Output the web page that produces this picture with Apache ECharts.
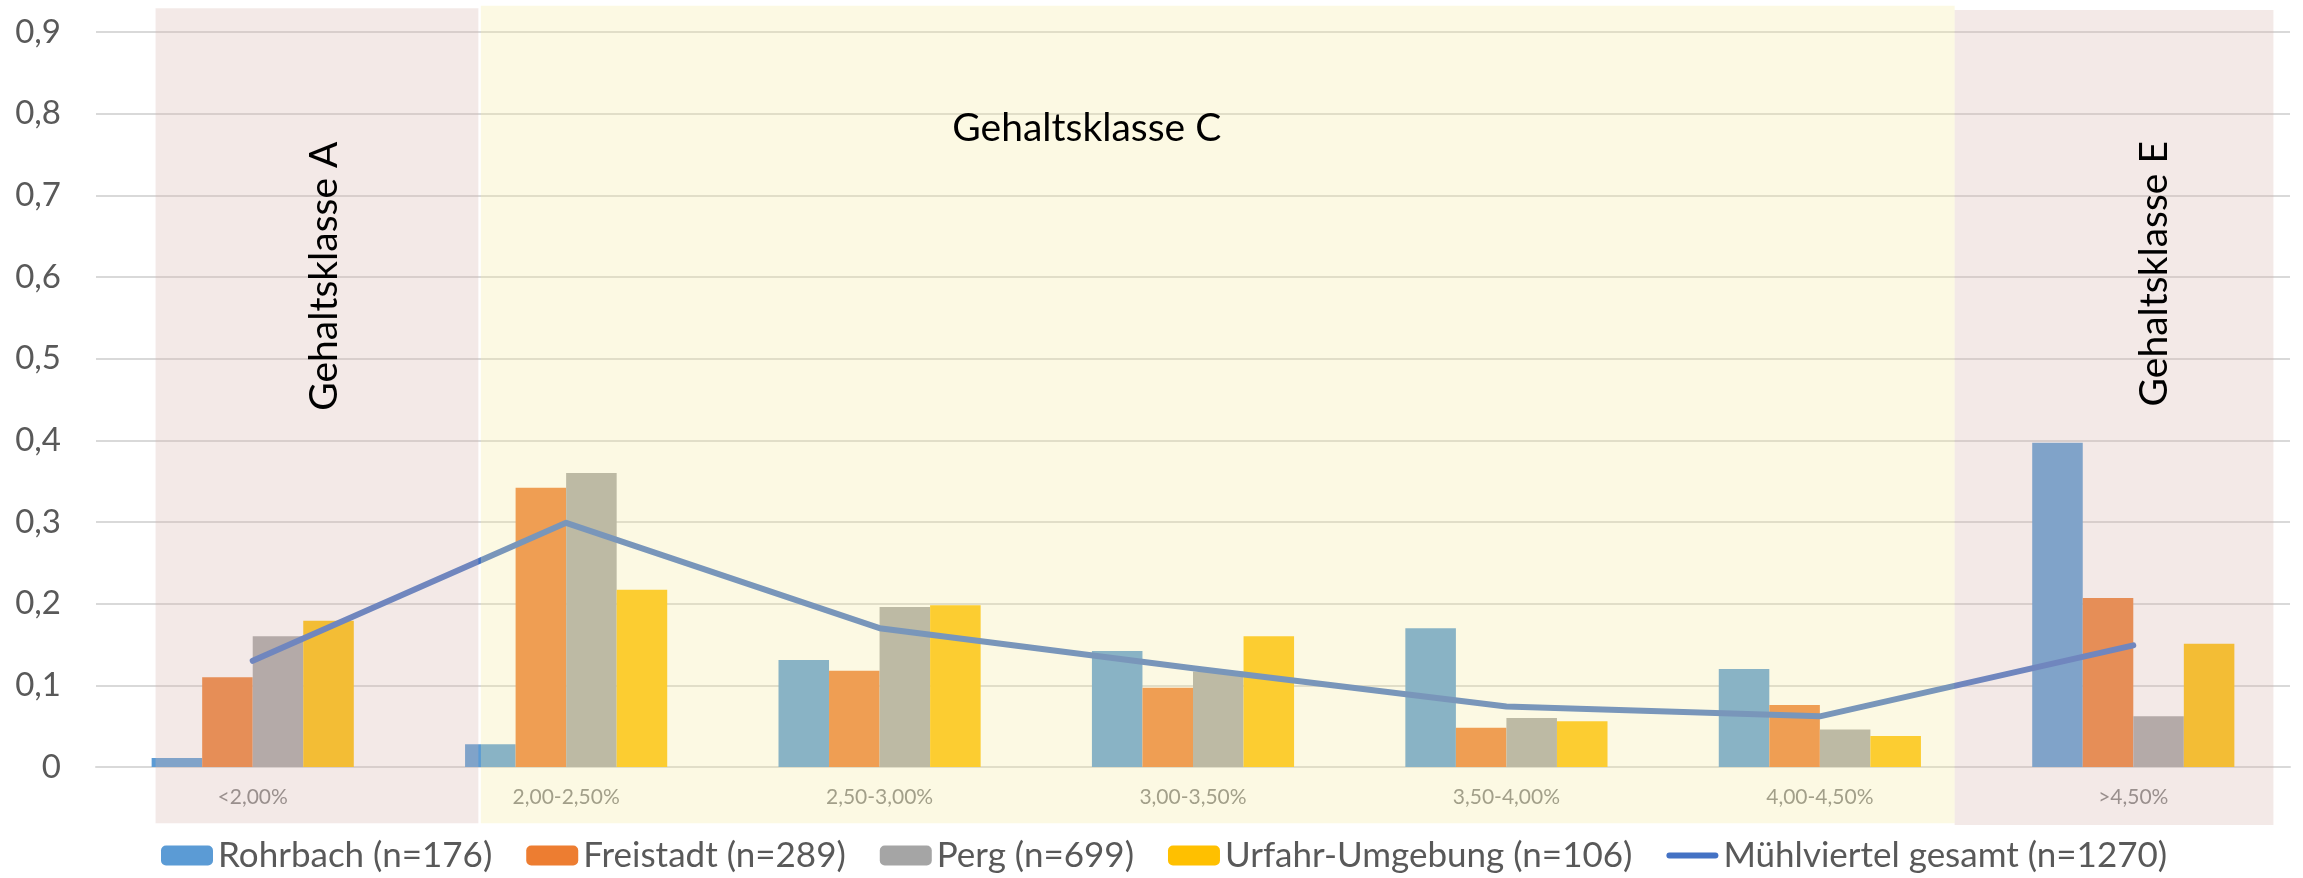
<!DOCTYPE html>
<html>
<head>
<meta charset="utf-8">
<script src="https://cdn.jsdelivr.net/npm/echarts@6/dist/echarts.min.js"></script>
<style>
  html, body { margin: 0; padding: 0; background: #fff; }
  #chart { width: 2303px; height: 878px; }
</style>
</head>
<body>
<div id="chart"></div>
<script>
const categories = ["<2,00%", "2,00-2,50%", "2,50-3,00%", "3,00-3,50%", "3,50-4,00%", "4,00-4,50%", ">4,50%"];
const rohrbach = [0.011, 0.028, 0.131, 0.142, 0.170, 0.120, 0.397];
const freistadt = [0.110, 0.342, 0.118, 0.097, 0.048, 0.076, 0.207];
const perg = [0.160, 0.360, 0.196, 0.117, 0.060, 0.046, 0.062];
const urfahr = [0.179, 0.217, 0.198, 0.160, 0.056, 0.038, 0.151];
const gesamt = [0.130, 0.299, 0.170, 0.121, 0.074, 0.062, 0.149];
const seriesNames = ["Rohrbach (n=176)", "Freistadt (n=289)", "Perg (n=699)", "Urfahr-Umgebung (n=106)", "Mühlviertel gesamt (n=1270)"];
const bandLabels = ["Gehaltsklasse A", "Gehaltsklasse C", "Gehaltsklasse E"];

const FONT = "Lato, 'Open Sans', sans-serif";

// shaded salary-class bands, in category units (0..7) on a hidden value axis
const bands = [
  { from: 0.19, to: 1.22, top: 0.929, bottom: -0.069, color: "rgba(215,182,175,0.3)" },
  { from: 1.228, to: 5.93, top: 0.932, bottom: -0.069, color: "rgba(245,235,163,0.3)" },
  { from: 5.93, to: 6.947, top: 0.927, bottom: -0.071, color: "rgba(215,182,175,0.3)" },
];
const bandText = [
  { x: 0.73, y: 0.601, rotate: true },
  { x: 3.161, y: 0.782, rotate: false },
  { x: 6.568, y: 0.604, rotate: true },
];

const chart = echarts.init(document.getElementById("chart"));

const barSeries = (name, data, color) => ({
  name,
  type: "bar",
  data,
  barGap: "0%",
  barCategoryGap: "35.5%",
  itemStyle: { color },
});

chart.setOption({
  animation: false,
  grid: { left: 96, right: 13, top: 32, bottom: 111 },
  legend: {
    left: 156,
    top: 833,
    itemWidth: 52,
    itemHeight: 20,
    itemGap: 34,
    textStyle: { fontFamily: FONT, fontSize: 35, color: "#595959" },
    data: [
      seriesNames[0],
      seriesNames[1],
      seriesNames[2],
      seriesNames[3],
      { name: seriesNames[4], icon: "path://M3,0 L49,0 A3,3 0 0 1 49,6 L3,6 A3,3 0 0 1 3,0 Z" },
    ],
  },
  xAxis: [
    {
      type: "category",
      data: categories,
      axisTick: { show: false },
      axisLine: { lineStyle: { color: "#d9d9d9", width: 2 } },
      axisLabel: { fontFamily: FONT, fontSize: 21, color: "#7f7f7f", margin: 20 },
    },
    { type: "value", min: 0, max: 7, show: false },
  ],
  yAxis: {
    type: "value",
    min: 0,
    max: 0.9,
    interval: 0.1,
    axisLine: { show: false },
    axisTick: { show: false },
    splitLine: { lineStyle: { color: "#d9d9d9", width: 2 } },
    axisLabel: {
      fontFamily: FONT,
      fontSize: 33,
      color: "#595959",
      margin: 35,
      formatter: (v) => (v === 0 ? "0" : v.toFixed(1).replace(".", ",")),
    },
  },
  series: [
    barSeries(seriesNames[0], rohrbach, "#5B9BD5"),
    barSeries(seriesNames[1], freistadt, "#ED7D31"),
    barSeries(seriesNames[2], perg, "#A5A5A5"),
    barSeries(seriesNames[3], urfahr, "#FFC000"),
    {
      name: seriesNames[4],
      type: "line",
      data: gesamt,
      symbol: "none",
      z: 5,
      itemStyle: { color: "#4472C4" },
      lineStyle: { color: "#4472C4", width: 6, cap: "round", join: "round" },
    },
  ],
});

const px = (x, y) => chart.convertToPixel({ xAxisIndex: 1, yAxisIndex: 0 }, [x, y]);

const graphic = [];
bands.forEach((b) => {
  const p0 = px(b.from, b.top);
  const p1 = px(b.to, b.bottom);
  graphic.push({
    type: "rect",
    z: 50,
    silent: true,
    shape: { x: p0[0], y: p0[1], width: p1[0] - p0[0], height: p1[1] - p0[1] },
    style: { fill: b.color },
  });
});
bandText.forEach((t, i) => {
  const p = px(t.x, t.y);
  graphic.push({
    type: "text",
    z: 60,
    x: p[0],
    y: p[1],
    rotation: t.rotate ? Math.PI / 2 : 0,
    style: {
      text: bandLabels[i],
      fontFamily: FONT,
      fontSize: 39,
      fill: "#000",
      align: "center",
      verticalAlign: "middle",
    },
  });
});
chart.setOption({ graphic });
</script>
</body>
</html>
